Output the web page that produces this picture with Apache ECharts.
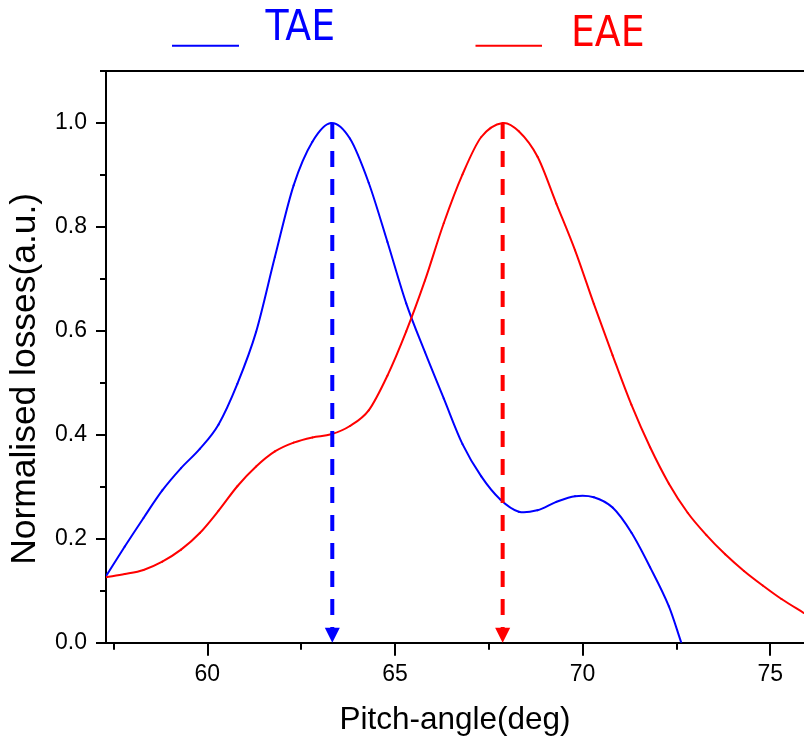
<!DOCTYPE html>
<html>
<head>
<meta charset="utf-8">
<script src="https://cdn.jsdelivr.net/npm/echarts@6/dist/echarts.min.js"></script>
<style>
  html, body { margin: 0; padding: 0; background: #fff; }
  #chart { width: 804px; height: 742px; }
</style>
</head>
<body>
<div id="chart"></div>
<script>
// Normalised loss profiles versus pitch angle
const taeX = [57.3, 57.8, 58.3, 58.8, 59.3, 59.8, 60.3, 60.8, 61.3, 61.8, 62.3, 62.8, 63.3, 63.8, 64.3, 64.8, 65.3, 65.8, 66.3, 66.8, 67.3, 67.8, 68.3, 68.8, 69.3, 69.8, 70.3, 70.8, 71.3, 71.8, 72.3, 72.63];
const taeY = [0.128, 0.185, 0.240, 0.293, 0.336, 0.373, 0.420, 0.498, 0.598, 0.742, 0.880, 0.964, 1.0, 0.970, 0.885, 0.771, 0.653, 0.559, 0.470, 0.382, 0.320, 0.276, 0.252, 0.255, 0.271, 0.282, 0.280, 0.260, 0.212, 0.145, 0.070, 0.0];

const eaeX = [57.3, 57.8, 58.3, 58.8, 59.3, 59.8, 60.3, 60.8, 61.3, 61.8, 62.3, 62.8, 63.3, 63.8, 64.3, 64.8, 65.3, 65.8, 66.3, 66.8, 67.3, 67.87, 68.3, 68.8, 69.3, 69.8, 70.3, 70.8, 71.3, 71.8, 72.3, 72.8, 73.3, 73.8, 74.3, 74.8, 75.3, 75.9];
const eaeY = [0.126, 0.132, 0.140, 0.156, 0.179, 0.211, 0.254, 0.301, 0.339, 0.368, 0.385, 0.395, 0.401, 0.417, 0.447, 0.514, 0.599, 0.697, 0.807, 0.901, 0.973, 1.0, 0.984, 0.935, 0.845, 0.755, 0.652, 0.553, 0.458, 0.376, 0.306, 0.250, 0.207, 0.170, 0.138, 0.110, 0.084, 0.057];

// Peak markers (dashed arrows down to the axis)
const peakNames = ['TAE', 'EAE'];
const peakX = [63.33, 67.87];
const peakY = [1.0, 1.0];

// Axis ticks
const xMajorTicks = [60, 65, 70, 75];
const xMinorTicks = [57.5, 62.5, 67.5, 72.5];
const yMajorTicks = [0, 0.2, 0.4, 0.6, 0.8, 1.0];
const yMinorTicks = [0.1, 0.3, 0.5, 0.7, 0.9, 1.1];

const X_MIN = 57.3, X_MAX = 75.9, Y_MIN = 0, Y_MAX = 1.1;
const BLUE = '#0000ff', RED = '#ff0000';
const LABEL_FONT = 'Liberation Sans, Arial, sans-serif';
const LEGEND_FONT = '"Liberation Sans Narrow", "DejaVu Sans Condensed", "Arial Narrow", sans-serif';

const zip = (xs, ys) => xs.map((x, i) => [x, ys[i]]);

const axisLineStyle = { color: '#000', width: 2 };

// Draws the whole series as a cubic Hermite curve (finite-difference tangents)
// through the points placed by the axes.
function smoothCurve(color) {
  return function (params, api) {
    if (params.dataIndexInside !== 0) return null;
    const n = params.dataInsideLength;
    const pts = [];
    for (let i = 0; i < n; i++) {
      pts.push(api.coord([api.value(0, i), api.value(1, i)]));
    }
    const slope = i => {
      const a = pts[Math.max(i - 1, 0)], b = pts[Math.min(i + 1, n - 1)];
      return (b[1] - a[1]) / (b[0] - a[0]);
    };
    const children = [];
    for (let i = 0; i < n - 1; i++) {
      const p0 = pts[i], p1 = pts[i + 1];
      const h = (p1[0] - p0[0]) / 3;
      const m0 = slope(i), m1 = slope(i + 1);
      children.push({
        type: 'bezierCurve',
        shape: {
          x1: p0[0], y1: p0[1],
          cpx1: p0[0] + h, cpy1: p0[1] + m0 * h,
          cpx2: p1[0] - h, cpy2: p1[1] - m1 * h,
          x2: p1[0], y2: p1[1]
        },
        style: { stroke: color, fill: null, lineWidth: 2, lineCap: 'round' }
      });
    }
    return { type: 'group', children: children };
  };
}

const chart = echarts.init(document.getElementById('chart'), null, { renderer: 'canvas' });

chart.setOption({
  animation: false,
  backgroundColor: '#fff',
  grid: { left: 106, right: 0, top: 71, bottom: 99.3, containLabel: false },
  xAxis: [
    {
      type: 'value', min: X_MIN, max: X_MAX, position: 'bottom',
      axisLine: { show: true, lineStyle: axisLineStyle },
      axisTick: { show: true, customValues: xMajorTicks, length: 13, lineStyle: { color: '#000', width: 2 } },
      axisLabel: { customValues: xMajorTicks, fontSize: 23, color: '#000', fontFamily: LABEL_FONT, margin: 20 },
      splitLine: { show: false },
      name: 'Pitch-angle(deg)', nameLocation: 'middle', nameGap: 62,
      nameTextStyle: { fontSize: 31.5, color: '#000', fontFamily: LABEL_FONT }
    },
    {
      type: 'value', min: X_MIN, max: X_MAX, position: 'bottom',
      axisLine: { show: false },
      axisTick: { show: true, customValues: xMinorTicks, length: 7, lineStyle: { color: '#000', width: 2 } },
      axisLabel: { show: false },
      splitLine: { show: false }
    },
    {
      type: 'value', min: X_MIN, max: X_MAX, position: 'top',
      axisLine: { show: true, lineStyle: axisLineStyle },
      axisTick: { show: false }, axisLabel: { show: false }, splitLine: { show: false }
    }
  ],
  yAxis: [
    {
      type: 'value', min: Y_MIN, max: Y_MAX, position: 'left',
      axisLine: { show: true, lineStyle: axisLineStyle },
      axisTick: { show: true, customValues: yMajorTicks, length: 10, lineStyle: { color: '#000', width: 2 } },
      axisLabel: {
        customValues: yMajorTicks, fontSize: 23, color: '#000', fontFamily: LABEL_FONT, margin: 19,
        formatter: v => Number(v).toFixed(1)
      },
      splitLine: { show: false },
      name: 'Normalised losses(a.u.)', nameLocation: 'middle', nameGap: 63,
      nameTextStyle: { fontSize: 35.4, color: '#000', fontFamily: LABEL_FONT, padding: [0, 44, 0, 0] }
    },
    {
      type: 'value', min: Y_MIN, max: Y_MAX, position: 'left',
      axisLine: { show: false },
      axisTick: { show: true, customValues: yMinorTicks, length: 6, lineStyle: { color: '#000', width: 2 } },
      axisLabel: { show: false },
      splitLine: { show: false }
    }
  ],
  graphic: [
    { type: 'line', shape: { x1: 172, y1: 45.7, x2: 239, y2: 45.7 }, style: { stroke: BLUE, lineWidth: 2 } },
    { type: 'text', x: 265.5, y: 29, style: { text: 'TAE', fill: BLUE, font: '42px ' + LEGEND_FONT, align: 'left', verticalAlign: 'middle' } },
    { type: 'line', shape: { x1: 475.5, y1: 45.7, x2: 542, y2: 45.7 }, style: { stroke: RED, lineWidth: 2 } },
    { type: 'text', x: 571, y: 35, style: { text: 'EAE', fill: RED, font: '42px ' + LEGEND_FONT, align: 'left', verticalAlign: 'middle' } }
  ],
  series: [
    {
      name: 'TAE', type: 'custom', data: zip(taeX, taeY), renderItem: smoothCurve(BLUE),
      clip: true, z: 3, itemStyle: { color: BLUE }
    },
    {
      name: 'EAE', type: 'custom', data: zip(eaeX, eaeY), renderItem: smoothCurve(RED),
      clip: true, z: 3, itemStyle: { color: RED }
    },
    {
      name: 'peaks', type: 'custom', z: 5, clip: false,
      data: peakX.map((x, i) => ({ name: peakNames[i], value: [x, peakY[i]], itemStyle: { color: i === 0 ? BLUE : RED } })),
      renderItem: function (params, api) {
        const x = api.value(0);
        const top = api.coord([x, api.value(1)]);
        const base = api.coord([x, 0]);
        const color = api.visual('color');
        const head = 15, half = 7.5;
        return {
          type: 'group',
          children: [
            {
              type: 'line',
              shape: { x1: top[0], y1: top[1], x2: base[0], y2: base[1] - head + 1 },
              style: { stroke: color, lineWidth: 4, lineDash: [16, 12] }
            },
            {
              type: 'polygon',
              shape: { points: [[base[0] - half, base[1] - head], [base[0] + half, base[1] - head], [base[0], base[1]]] },
              style: { fill: color }
            }
          ]
        };
      }
    }
  ]
});
</script>
</body>
</html>
